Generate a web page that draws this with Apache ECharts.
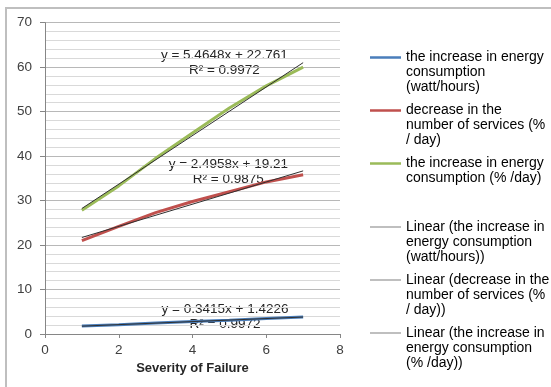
<!DOCTYPE html>
<html><head><meta charset="utf-8">
<script src="https://cdn.jsdelivr.net/npm/echarts@6/dist/echarts.min.js"></script>
<style>html,body{margin:0;padding:0;background:#fff}#c{width:551px;height:387px}</style>
</head><body><div id="c"></div>
<script>
// ---- data ----
const severity = [1, 2, 3, 4, 5, 6, 7];
const energyWatt = [1.8, 2.1, 2.5, 2.8, 3.1, 3.5, 3.8];
const servicesDecrease = [21, 24.2, 27.3, 29.8, 32, 34.2, 35.8];
const energyPct = [27.8, 33.3, 39.5, 45.2, 50.8, 55.8, 60.0];
const seriesNames = [
  'the increase in energy consumption (watt/hours)',
  'decrease in the number of services (% / day)',
  'the increase in energy consumption (% /day)'
];
const trendNames = [
  'Linear (the increase in energy consumption (watt/hours))',
  'Linear (decrease in the number of services (% / day))',
  'Linear (the increase in energy consumption (% /day))'
];
const legendLabels = [
  'the increase in energy\nconsumption\n(watt/hours)',
  'decrease in the\nnumber of services (%\n/ day)',
  'the increase in energy\nconsumption (% /day)\n',
  'Linear (the increase in\nenergy consumption\n(watt/hours))',
  'Linear (decrease in the\nnumber of services (%\n/ day))',
  'Linear (the increase in\nenergy consumption\n(% /day))'
];
const trendSlopes = [0.3415, 2.4958, 5.4648];
const trendIntercepts = [1.4226, 19.21, 22.761];
const trendEquations = ['y = 0.3415x + 1.4226', 'y = 2.4958x + 19.21', 'y = 5.4648x + 22.761'];
const trendR2 = ['R² = 0.9972', 'R² = 0.9875', 'R² = 0.9972'];
const seriesColors = ['#4a7ebb', '#c0504d', '#9bbb59'];

// ---- chart ----
const values = [energyWatt, servicesDecrease, energyPct];
const FONT = 'Liberation Sans';
const labelMap = {};
seriesNames.concat(trendNames).forEach((n, i) => { labelMap[n] = legendLabels[i]; });

const series = [];
values.forEach((v, i) => {
  series.push({
    name: seriesNames[i], type: 'line', data: severity.map((x, j) => [x, v[j]]),
    showSymbol: false, symbol: 'none', color: seriesColors[i],
    lineStyle: { width: 3, color: seriesColors[i] }, z: 2, silent: true
  });
});
trendSlopes.forEach((a, i) => {
  const xs = [severity[0], severity[severity.length - 1]];
  series.push({
    name: trendNames[i], type: 'line', data: xs.map(x => [x, a * x + trendIntercepts[i]]),
    showSymbol: false, symbol: 'none', color: '#303030',
    lineStyle: { width: 1, color: '#303030' }, z: 3, silent: true
  });
});

const dataIcon = 'path://M0,0h0.01v0.01h-0.01zM0,6.25h31v2.5h-31zM0,44.99h0.01v0.01h-0.01z';
const trendIcon = 'path://M0,0h0.01v0.01h-0.01zM0,6.9h31v1.2h-31zM0,44.99h0.01v0.01h-0.01z';
const legendCommon = {
  orient: 'vertical', left: 365, itemWidth: 31, itemHeight: 45, itemGap: 8,
  selectedMode: false, itemStyle: { borderWidth: 0 },
  formatter: n => labelMap[n],
  textStyle: { fontFamily: FONT, fontSize: 14, lineHeight: 15, color: '#000' }
};

// equation label positions (pixels)
const eqPos = [[225, 309, 324.3], [228.3, 164.3, 179.3], [224.4, 55.7, 70.7]];
const graphic = [{
  type: 'rect', shape: { x: 6, y: 8, width: 600, height: 500 },
  style: { fill: 'none', stroke: '#bfbfbf', lineWidth: 2 }, silent: true
}];
eqPos.forEach((p, i) => {
  graphic.push({ type: 'text', x: p[0], y: p[1], style: { text: trendEquations[i], fontFamily: FONT, fontSize: 13.5, fill: '#262626', align: 'center', verticalAlign: 'middle' } });
  graphic.push({ type: 'text', x: p[0], y: p[2], style: { text: trendR2[i], fontFamily: FONT, fontSize: 13.5, fill: '#262626', align: 'center', verticalAlign: 'middle' } });
});

const option = {
  animation: false,
  backgroundColor: '#fff',
  grid: { left: 45, right: 211, top: 22.7, bottom: 53, containLabel: false },
  xAxis: {
    type: 'value', min: 0, max: 8, interval: 2,
    name: 'Severity of Failure', nameLocation: 'middle', nameGap: 27,
    nameTextStyle: { fontFamily: FONT, fontSize: 13, fontWeight: 'bold', color: '#262626' },
    axisLine: { show: true, lineStyle: { color: '#868686', width: 1 } },
    axisTick: { show: true, length: 4, lineStyle: { color: '#868686' } },
    axisLabel: { fontFamily: FONT, fontSize: 13.5, color: '#404040', margin: 9 },
    splitLine: { show: false }
  },
  yAxis: {
    type: 'value', min: 0, max: 70, interval: 10,
    axisLine: { show: true, lineStyle: { color: '#868686', width: 1 } },
    axisTick: { show: true, length: 5, lineStyle: { color: '#868686' } },
    axisLabel: { fontFamily: FONT, fontSize: 13.5, color: '#404040', margin: 13 },
    splitLine: { show: true, lineStyle: { color: '#b8b8b8', width: 1 } },
    minorTick: { show: false, splitNumber: 5 },
    minorSplitLine: { show: true, lineStyle: { color: '#d9d9d9', width: 1 } }
  },
  legend: [
    Object.assign({}, legendCommon, {
      top: 45,
      data: seriesNames.map(n => ({ name: n, icon: dataIcon }))
    }),
    Object.assign({}, legendCommon, {
      top: 214.5,
      data: trendNames.map(n => ({ name: n, icon: trendIcon, itemStyle: { color: '#808080', borderWidth: 0 } }))
    })
  ],
  graphic: graphic,
  series: series
};
const chart = echarts.init(document.getElementById('c'), null, { renderer: 'canvas' });
chart.setOption(option);
</script></body></html>
